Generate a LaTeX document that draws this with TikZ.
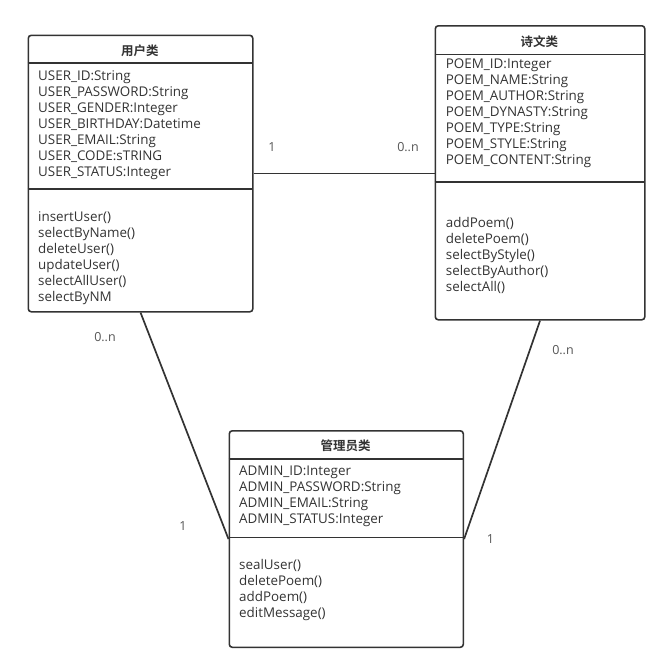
\documentclass[tikz,border=0pt]{standalone}
\usepackage{fontspec}
\setmainfont{Open Sans}
\newfontfamily\cjk{Noto Sans CJK SC}[BoldFont={* Bold}]
\definecolor{ink}{HTML}{333333}
\definecolor{lab}{HTML}{555555}
\begin{document}
\begin{tikzpicture}[x=1pt,y=-1pt,
  classbox/.style={draw=ink,line width=1.6pt,rounded corners=3pt,inner sep=0pt,anchor=north west},
  divider/.style={draw=ink,line width=1.6pt},
  title/.style={font=\cjk\bfseries\fontsize{12.5}{14}\selectfont,text=ink,anchor=center,inner sep=0pt},
  txt/.style={font=\fontsize{13.4}{16}\selectfont,text=ink,anchor=base west,inner sep=0pt},
  mult/.style={font=\fontsize{12.5}{14}\selectfont,text=lab,anchor=center,inner sep=0pt},
  link/.style={draw=ink,line width=1.7pt}]
\useasboundingbox (0,0) rectangle (668,670);
% user class
\node[classbox,minimum width=224.5pt,minimum height=276.5pt] (u) at (27.5,34.5) {};
\draw[divider] (27.5,63) -- (252,63);
\draw[divider] (27.5,189) -- (252,189);
\node[title] (ut) at (139.75,51) {用户类};
\foreach \t [count=\i from 0] in {USER\_ID:String,USER\_PASSWORD:String,USER\_GENDER:Integer,USER\_BIRTHDAY:Datetime,USER\_EMAIL:String,USER\_CODE:sTRING,USER\_STATUS:Integer}
  \node[txt] (ua\i) at (38,80+16*\i) {\t};
\foreach \t [count=\i from 0] in {insertUser(),selectByName(),deleteUser(),updateUser(),selectAllUser(),selectByNM}
  \node[txt] (um\i) at (38,221.7+16*\i) {\t};
% poem class
\node[classbox,minimum width=209.5pt,minimum height=294pt] (p) at (434.5,25) {};
\draw[divider] (434.5,54.3) -- (644,54.3);
\draw[divider] (434.5,181.7) -- (644,181.7);
\node[title] (pt) at (539.25,41.5) {诗文类};
\foreach \t [count=\i from 0] in {POEM\_ID:Integer,POEM\_NAME:String,POEM\_AUTHOR:String,POEM\_DYNASTY:String,POEM\_TYPE:String,POEM\_STYLE:String,POEM\_CONTENT:String}
  \node[txt] (pa\i) at (445.7,68.3+16*\i) {\t};
\foreach \t [count=\i from 0] in {addPoem(),deletePoem(),selectByStyle(),selectByAuthor(),selectAll()}
  \node[txt] (pm\i) at (445.7,227+16*\i) {\t};
% admin class
\node[classbox,minimum width=234pt,minimum height=216.5pt] (a) at (228.5,430) {};
\draw[divider] (228.5,459) -- (462.5,459);
\draw[divider] (228.5,537.3) -- (462.5,537.3);
\node[title] (at) at (345.5,446) {管理员类};
\foreach \t [count=\i from 0] in {ADMIN\_ID:Integer,ADMIN\_PASSWORD:String,ADMIN\_EMAIL:String,ADMIN\_STATUS:Integer}
  \node[txt] (aa\i) at (239,475+16*\i) {\t};
\foreach \t [count=\i from 0] in {sealUser(),deletePoem(),addPoem(),editMessage()}
  \node[txt] (am\i) at (239,569+16*\i) {\t};
% connectors
\draw[link] (u.east) -- (u.east -| p.west);
\draw[link] (u.south) -- (a.west);
\draw[link] (p.south) -- (a.east);
% multiplicities
\node[mult] (m1) at (272,147) {1};
\node[mult] (m2) at (408,147) {0..n};
\node[mult] (m3) at (105,337.5) {0..n};
\node[mult] (m4) at (183,526.5) {1};
\node[mult] (m5) at (563,350) {0..n};
\node[mult] (m6) at (490.5,539) {1};
\end{tikzpicture}
\end{document}
